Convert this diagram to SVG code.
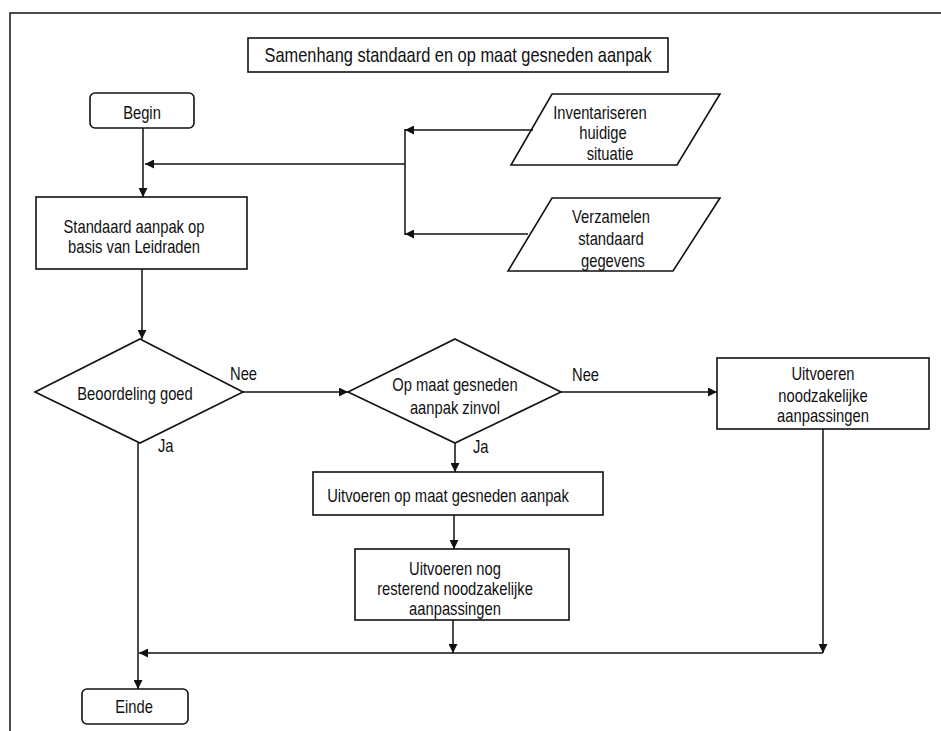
<svg xmlns="http://www.w3.org/2000/svg" width="941" height="731" viewBox="0 0 941 731">
<defs>
<marker id="ah" viewBox="0 0 10 10" refX="10" refY="5" markerWidth="9" markerHeight="9" markerUnits="userSpaceOnUse" orient="auto">
<path d="M0,0 L10,5 L0,10 z" fill="#111"/>
</marker>
<style>
.box{fill:#fff;stroke:#111;stroke-width:1.6}
.ln{fill:none;stroke:#111;stroke-width:1.5}
.arr{fill:none;stroke:#111;stroke-width:1.5;marker-end:url(#ah)}
text{font-family:"Liberation Sans Narrow","Arial Narrow","Liberation Sans",sans-serif;font-size:18px;fill:#111;text-anchor:middle;transform-box:fill-box;transform-origin:center;transform:scaleX(0.82)}
.lbl{text-anchor:start;transform-origin:left center}
</style>
</defs>
<rect width="941" height="731" fill="#fff"/>
<g id="frame">
<path class="ln" d="M10,731 L10,13 L941,13"/>
</g>
<g id="title">
<rect class="box" x="248" y="38" width="420" height="34"/>
<text x="458" y="62" style="font-size:20px">Samenhang standaard en op maat gesneden aanpak</text>
</g>
<g id="begin">
<rect class="box" x="90" y="93" width="104" height="35" rx="5"/>
<text x="142" y="119">Begin</text>
</g>
<g id="inventariseren">
<polygon class="box" points="552,94 720,94 677,165 511,165"/>
<text x="600" y="119">Inventariseren</text>
<text x="603" y="139">huidige</text>
<text x="610" y="160">situatie</text>
</g>
<g id="verzamelen">
<polygon class="box" points="552,198 720,198 673,271 508,271"/>
<text x="611" y="223">Verzamelen</text>
<text x="611" y="245">standaard</text>
<text x="613" y="267">gegevens</text>
</g>
<g id="standaard">
<rect class="box" x="36" y="197" width="211" height="72"/>
<text x="134" y="233">Standaard aanpak op</text>
<text x="134" y="253">basis van Leidraden</text>
</g>
<g id="beoordeling">
<polygon class="box" points="140,339 243,392 140,443 35,392"/>
<text x="135" y="400">Beoordeling goed</text>
</g>
<g id="opmaat">
<polygon class="box" points="455,339 561,392 455,443 348,392"/>
<text x="455" y="391">Op maat gesneden</text>
<text x="455" y="414">aanpak zinvol</text>
</g>
<g id="noodzakelijk">
<rect class="box" x="717" y="358" width="212" height="71"/>
<text x="823" y="380">Uitvoeren</text>
<text x="823" y="402">noodzakelijke</text>
<text x="823" y="422">aanpassingen</text>
</g>
<g id="uitvoeren-opmaat">
<rect class="box" x="313" y="472" width="290" height="43"/>
<text x="448" y="502">Uitvoeren op maat gesneden aanpak</text>
</g>
<g id="resterend">
<rect class="box" x="355" y="549" width="214" height="71"/>
<text x="455" y="575">Uitvoeren nog</text>
<text x="455" y="595">resterend noodzakelijke</text>
<text x="455" y="615">aanpassingen</text>
</g>
<g id="einde">
<rect class="box" x="82" y="689" width="106" height="35" rx="5"/>
<text x="134" y="713">Einde</text>
</g>
<g id="connectors">
<line class="arr" x1="143" y1="128" x2="143" y2="197"/>
<line class="arr" x1="533" y1="130" x2="405" y2="130"/>
<line class="arr" x1="528" y1="234" x2="405" y2="234"/>
<line class="ln" x1="405" y1="129" x2="405" y2="235"/>
<line class="arr" x1="405" y1="164" x2="145" y2="164"/>
<line class="arr" x1="142" y1="269" x2="142" y2="339"/>
<line class="arr" x1="243" y1="392" x2="348" y2="392"/>
<line class="arr" x1="561" y1="392" x2="717" y2="392"/>
<line class="arr" x1="455" y1="443" x2="455" y2="472"/>
<line class="arr" x1="454" y1="515" x2="454" y2="549"/>
<line class="arr" x1="453" y1="620" x2="453" y2="653"/>
<line class="arr" x1="823" y1="429" x2="823" y2="653"/>
<line class="arr" x1="823" y1="653" x2="139" y2="653"/>
<line class="arr" x1="138" y1="443" x2="138" y2="689"/>
<text class="lbl" x="230" y="380">Nee</text>
<text class="lbl" x="158" y="452">Ja</text>
<text class="lbl" x="572" y="381">Nee</text>
<text class="lbl" x="473" y="453">Ja</text>
</g>
</svg>
